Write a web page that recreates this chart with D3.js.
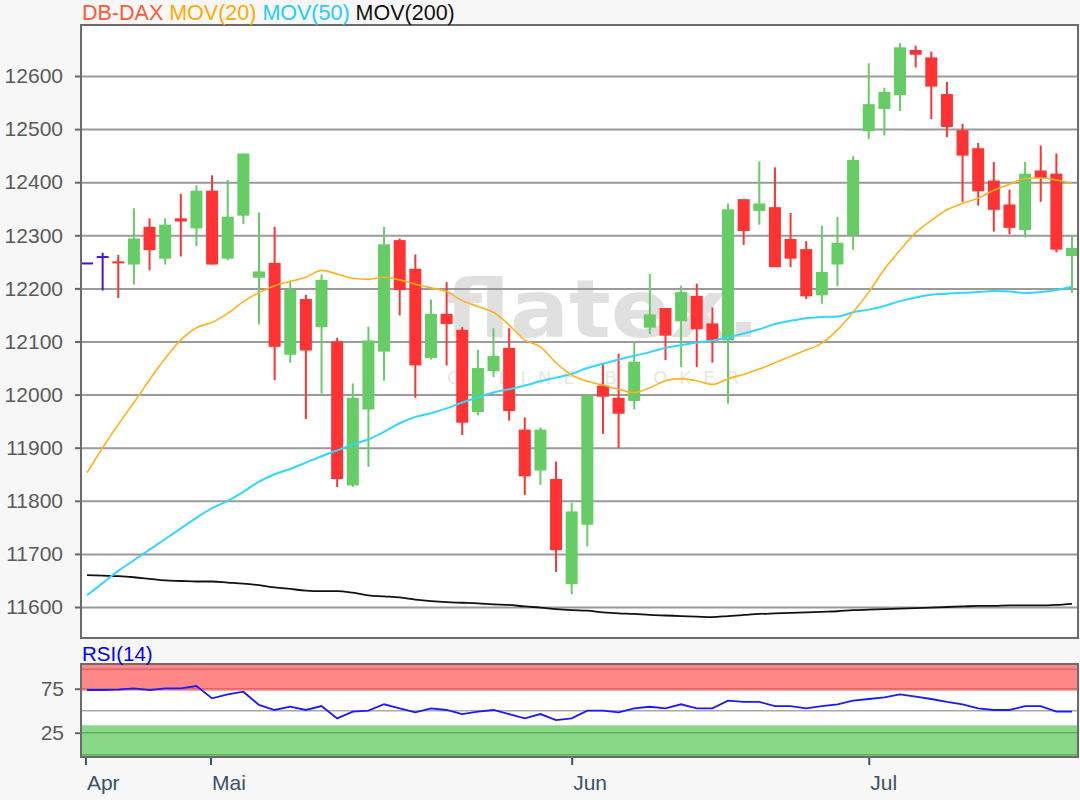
<!DOCTYPE html>
<html>
<head>
<meta charset="utf-8">
<script src="https://cdn.jsdelivr.net/npm/d3@7"></script>
<style>
  html, body { margin: 0; padding: 0; background: #f7f7f7; }
  svg { display: block; font-family: "Liberation Sans", Arial, sans-serif; }
</style>
</head>
<body>
<svg id="chart" width="1080" height="800"></svg>
<script>
// ---- Data ----
const openVals  = [12247,12259,12249,12245,12316,12256,12332,12313,12384,12256,12337,12220,12248,12075,12180,12127,12100,11829,11972,12081,12291,12237,12069,12152,12122,11967,12044,12088,11934,11857,11841,11643,11755,12017,11994,11988,12126,12163,12138,12186,12134,12102,12368,12346,12353,12293,12274,12187,12245,12300,12496,12538,12564,12649,12635,12566,12498,12464,12403,12358,12310,12422,12416,12261];
const highVals  = [12247,12267,12263,12351,12332,12332,12378,12394,12413,12404,12454,12343,12316,12215,12188,12226,12107,12021,12128,12316,12294,12264,12179,12212,12127,12084,12125,12125,11957,11938,11874,11796,12000,12058,12077,12099,12227,12163,12205,12209,12164,12360,12368,12439,12428,12342,12289,12318,12335,12449,12624,12578,12662,12657,12646,12589,12510,12474,12438,12386,12438,12469,12454,12300];
const lowVals   = [12247,12196,12182,12207,12234,12245,12260,12280,12245,12253,12321,12132,12027,12060,11954,12002,11826,11826,11864,12026,12149,11994,12066,12055,11924,11961,12033,11951,11811,11830,11666,11624,11714,11926,11899,11972,12114,12065,12052,12052,12060,11983,12282,12320,12240,12240,12180,12171,12204,12273,12481,12488,12534,12616,12519,12485,12363,12356,12307,12302,12296,12363,12268,12192];
const closeVals = [12247,12259,12246,12294,12272,12320,12326,12384,12245,12335,12454,12232,12090,12197,12083,12216,11841,11994,12102,12283,12197,12055,12152,12133,11947,12050,12073,11969,11846,11934,11707,11780,11998,11996,11964,12062,12151,12111,12193,12123,12102,12349,12308,12360,12240,12256,12185,12231,12286,12442,12547,12570,12654,12640,12580,12504,12450,12383,12348,12314,12416,12408,12273,12276];

const mov20  = [11853,11900,11944,11985,12028,12068,12103,12126,12136,12153,12175,12192,12205,12213,12221,12234,12227,12219,12217,12221,12216,12208,12201,12194,12177,12166,12155,12131,12103,12090,12060,12037,12025,12018,12010,12004,12013,12026,12030,12026,12019,12030,12038,12048,12060,12072,12084,12097,12122,12155,12193,12236,12272,12305,12328,12348,12360,12370,12385,12396,12407,12408,12404,12398];
const mov50  = [11622,11645,11668,11688,11708,11728,11748,11768,11786,11800,11817,11836,11850,11860,11872,11884,11895,11906,11916,11930,11946,11958,11965,11974,11985,11995,12004,12010,12017,12025,12032,12039,12050,12058,12066,12073,12080,12088,12093,12098,12102,12108,12115,12123,12133,12139,12144,12146,12147,12155,12160,12167,12176,12183,12188,12190,12192,12193,12195,12194,12191,12193,12197,12203];
const mov200 = [11660,11659,11658,11656,11653,11650,11649,11648,11648,11646,11644,11641,11637,11634,11631,11630,11630,11627,11622,11620,11618,11614,11611,11609,11608,11607,11605,11604,11601,11599,11596,11594,11593,11590,11588,11587,11585,11584,11583,11582,11581,11583,11585,11587,11588,11589,11590,11591,11592,11594,11595,11596,11597,11598,11599,11600,11601,11602,11602,11603,11603,11603,11604,11606];
const rsi14  = [73.5,73.5,74,75.4,73.5,75.4,75.4,78,64,68.6,71.6,56.5,50.8,54.5,50.8,55.3,41.3,48.9,50,57.3,52.7,48.2,52.7,50.8,46.2,48.9,50.8,46.2,41.3,46.2,39.4,41.3,50,50,48,52.7,54.5,52.7,57.3,52.7,52.7,61.4,60,60,55.3,55.3,52.7,55.3,57.3,61.4,63.3,65.2,68.6,66,63.3,60,57.3,52.7,50.8,50.8,55.3,55.3,48.9,48.9];

const priceTicks = [11600,11700,11800,11900,12000,12100,12200,12300,12400,12500,12600];
const rsiTicks = [25, 75];
const monthLabels = ["Apr","Mai","Jun","Jul"];
const monthPos = [-0.1, 7.9, 31, 50];   // position in candle-index units
const legendItems = [
  {label:"DB-DAX", color:"#ff5a36"},
  {label:"MOV(20)", color:"#ffaa00"},
  {label:"MOV(50)", color:"#22ccff"},
  {label:"MOV(200)", color:"#111111"}
];

// ---- Layout ----
const FONT = "Liberation Sans, Arial, sans-serif";
const svg = d3.select("#chart");
const P = {left:81, right:1078, top:25, bottom:638};
const R = {top:664, bottom:757};
const n = openVals.length;
const idx = d3.range(n);

const x = d3.scaleLinear().domain([0, n-1]).range([87, 1072]);
const y = d3.scaleLinear().domain([11600, 12600]).range([607, 76]);
const yr = d3.scaleLinear().domain([0, 100]).range([754.7, 666.7]);

// background panels
svg.append("rect").attr("x",0).attr("y",0).attr("width",1080).attr("height",800).attr("fill","#f7f7f7");
svg.append("rect").attr("x",P.left).attr("y",P.top).attr("width",P.right-P.left).attr("height",P.bottom-P.top).attr("fill","#fff");

// watermark
const wm = svg.append("g").attr("pointer-events","none");
wm.append("text").attr("x",445).attr("y",337).text("flatex.")
  .attr("font-family","DejaVu Sans, sans-serif").attr("font-weight","bold").attr("font-size",80)
  .attr("textLength",315).attr("lengthAdjust","spacingAndGlyphs").attr("fill","#e0e0e0");
wm.append("text").attr("x",447).attr("y",384).text("ONLINE BROKER")
  .attr("font-family","DejaVu Sans, sans-serif").attr("font-size",18)
  .attr("textLength",292).attr("lengthAdjust","spacing").attr("fill","#e6e6e6");

// main gridlines + y axis
const yAxis = d3.axisLeft(y).tickValues(priceTicks).tickSize(P.right-P.left).tickFormat(d3.format("d"));
const gy = svg.append("g").attr("transform",`translate(${P.right},0)`).call(yAxis);
gy.select(".domain").remove();
gy.selectAll(".tick line").attr("stroke","#9a9a9a").attr("stroke-width",2);
gy.selectAll(".tick text").remove();
const yAxis2 = d3.axisLeft(y).tickValues(priceTicks).tickSize(6).tickPadding(12).tickFormat(d3.format("d"));
const gy2 = svg.append("g").attr("transform",`translate(${P.left},0)`).call(yAxis2);
gy2.select(".domain").remove();
gy2.selectAll(".tick line").attr("stroke","#666").attr("stroke-width",2);
gy2.selectAll(".tick text").attr("font-size",21).attr("fill","#5a5a5a").attr("font-family",FONT);

// candles
const candleColor = i => closeVals[i] > openVals[i] ? "#66cc66" : (closeVals[i] < openVals[i] ? "#ff3333" : "#4a12d8");
const bodyW = 12;
const cg = svg.append("g");
cg.selectAll("line.wick").data(idx.filter(i => highVals[i] !== lowVals[i])).join("line")
  .attr("x1", i => x(i)).attr("x2", i => x(i))
  .attr("y1", i => y(highVals[i])).attr("y2", i => y(lowVals[i]))
  .attr("stroke", candleColor).attr("stroke-width", 2);
cg.selectAll("rect.body").data(idx).join("rect")
  .attr("x", i => x(i) - bodyW/2)
  .attr("width", bodyW)
  .attr("y", i => Math.min(y(openVals[i]), y(closeVals[i])) - (Math.abs(y(openVals[i])-y(closeVals[i])) < 2 ? 1 : 0))
  .attr("height", i => Math.max(2, Math.abs(y(openVals[i]) - y(closeVals[i]))))
  .attr("fill", candleColor);

// moving averages
const line = arr => d3.line().x((d,i) => x(i)).y(d => y(d)).curve(d3.curveMonotoneX)(arr);
svg.append("path").attr("d", line(mov200)).attr("fill","none").attr("stroke","#111").attr("stroke-width",1.8);
svg.append("path").attr("d", line(mov50)).attr("fill","none").attr("stroke","#33d6ff").attr("stroke-width",2);
svg.append("path").attr("d", line(mov20)).attr("fill","none").attr("stroke","#ffb21e").attr("stroke-width",1.6);

// main frame
svg.append("rect").attr("x",P.left).attr("y",P.top).attr("width",P.right-P.left).attr("height",P.bottom-P.top)
  .attr("fill","none").attr("stroke","#6b6b6b").attr("stroke-width",2);

// legend
const leg = svg.append("text").attr("x",82).attr("y",20).attr("font-size",21.5).attr("font-family",FONT);
legendItems.forEach((d,k) => {
  leg.append("tspan").attr("fill", d.color).text((k>0 ? " " : "") + d.label);
});

// ---- RSI panel ----
svg.append("rect").attr("x",P.left).attr("y",R.top).attr("width",P.right-P.left).attr("height",R.bottom-R.top).attr("fill","#fff");
svg.append("rect").attr("x",P.left).attr("y",R.top).attr("width",P.right-P.left).attr("height",yr(72.7)-R.top).attr("fill","#ff8787");
svg.append("rect").attr("x",P.left).attr("y",yr(33.4)).attr("width",P.right-P.left).attr("height",R.bottom-yr(33.4)).attr("fill","#88d888");
// band lines
[[97,"#d86a6a"],[75,"#d86a6a"],[50,"#a8a8a8"],[25,"#5fae5f"],[0,"#5fae5f"]].forEach(([v,c]) => {
  svg.append("line").attr("x1",P.left).attr("x2",P.right).attr("y1",yr(v)).attr("y2",yr(v)).attr("stroke",c).attr("stroke-width",1.5);
});
const rAxis = d3.axisLeft(yr).tickValues(rsiTicks).tickSize(6).tickPadding(11);
const gr = svg.append("g").attr("transform",`translate(${P.left},0)`).call(rAxis);
gr.select(".domain").remove();
gr.selectAll(".tick line").attr("stroke","#666").attr("stroke-width",2);
gr.selectAll(".tick text").attr("font-size",21).attr("fill","#5a5a5a").attr("font-family",FONT);

svg.append("path").attr("d", d3.line().x((d,i)=>x(i)).y(d=>yr(d))(rsi14))
  .attr("fill","none").attr("stroke","#1a1aff").attr("stroke-width",1.8);

svg.append("rect").attr("x",P.left).attr("y",R.top).attr("width",P.right-P.left).attr("height",R.bottom-R.top)
  .attr("fill","none").attr("stroke","#6b6b6b").attr("stroke-width",2);
svg.append("text").attr("x",82).attr("y",661).attr("font-size",20.5).attr("fill","#0000ff")
  .attr("font-family",FONT).text("RSI(14)");

// x axis (months)
const xAxis = d3.axisBottom(x).tickValues(monthPos).tickSize(7).tickPadding(10)
  .tickFormat((d,k) => monthLabels[k]);
const gx = svg.append("g").attr("transform",`translate(0,${R.bottom+1})`).call(xAxis);
gx.select(".domain").remove();
gx.selectAll(".tick line").attr("stroke","#3a5366").attr("stroke-width",2);
gx.selectAll(".tick text").attr("text-anchor","start").attr("dx",1).attr("font-size",21)
  .attr("fill","#3a5366").attr("font-family",FONT);
</script>
</body>
</html>
